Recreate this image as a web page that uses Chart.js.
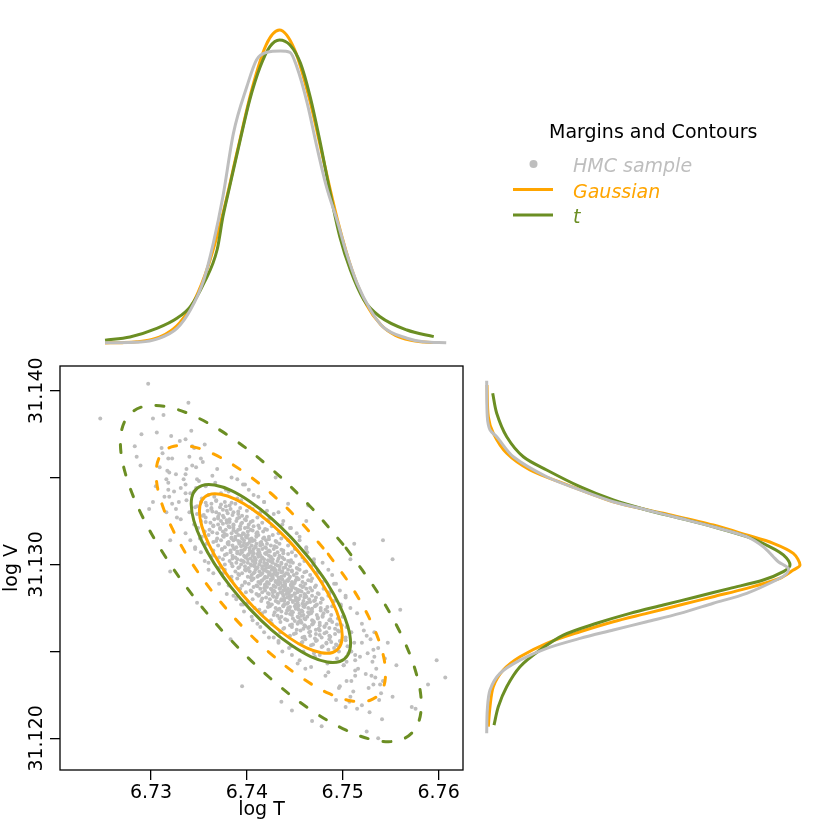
<!DOCTYPE html>
<html>
<head>
<meta charset="utf-8">
<script src="https://cdn.jsdelivr.net/npm/chart.js@4/dist/chart.umd.min.js"></script>
<style>
  body { margin: 0; background: #fff; }
  #wrap { position: relative; width: 830px; height: 830px; }
  canvas { position: absolute; }
</style>
</head>
<body>
<div id="wrap">
  <canvas id="mainChart" width="480" height="490" style="left:0;top:340px;width:480px;height:490px"></canvas>
  <canvas id="topChart" width="830" height="366" style="left:0;top:0;width:830px;height:366px"></canvas>
  <canvas id="rightChart" width="350" height="404" style="left:480px;top:366px;width:350px;height:404px"></canvas>
</div>
<script>
// HMC draws (log T, log V)
const hmcSample = [
  [6.7365,31.1295],[6.7377,31.1297],[6.7384,31.1293],[6.7388,31.1296],[6.7392,31.1294],[6.7395,31.1295],[6.7398,31.1297],[6.7401,31.1293],[6.7403,31.1296],[6.7405,31.1294],[6.7407,31.1295],[6.7409,31.1297],[6.7411,31.1293],[6.7413,31.1296],[6.7414,31.1294],[6.7416,31.1295],[6.7418,31.1297],[6.7419,31.1293],[6.7421,31.1296],[6.7423,31.1294],[6.7424,31.1295],[6.7426,31.1297],[6.7427,31.1293],[6.7429,31.1296],[6.7431,31.1294],[6.7432,31.1295],[6.7434,31.1297],[6.7436,31.1293],[6.7437,31.1296],[6.7439,31.1294],[6.7441,31.1295],[6.7443,31.1297],[6.7445,31.1293],[6.7447,31.1296],[6.7449,31.1294],[6.7452,31.1295],[6.7455,31.1297],[6.7458,31.1293],[6.7462,31.1296],[6.7466,31.1294],[6.7473,31.1295],[6.7485,31.1297],
  [6.7360,31.1301],[6.7371,31.1298],[6.7377,31.1300],[6.7382,31.1302],[6.7385,31.1299],[6.7389,31.1301],[6.7391,31.1298],[6.7394,31.1300],[6.7396,31.1302],[6.7398,31.1299],[6.7401,31.1301],[6.7402,31.1298],[6.7404,31.1300],[6.7406,31.1302],[6.7408,31.1299],[6.7409,31.1301],[6.7411,31.1298],[6.7413,31.1300],[6.7414,31.1302],[6.7416,31.1299],[6.7418,31.1301],[6.7420,31.1298],[6.7421,31.1300],[6.7424,31.1302],[6.7425,31.1299],[6.7427,31.1301],[6.7428,31.1298],[6.7430,31.1300],[6.7432,31.1302],[6.7434,31.1299],[6.7436,31.1301],[6.7438,31.1298],[6.7441,31.1300],[6.7443,31.1302],[6.7445,31.1299],[6.7448,31.1301],[6.7452,31.1298],[6.7455,31.1300],[6.7460,31.1302],[6.7467,31.1299],[6.7479,31.1301],
  [6.7371,31.1289],[6.7384,31.1291],[6.7390,31.1292],[6.7395,31.1288],[6.7398,31.1290],[6.7402,31.1289],[6.7405,31.1291],[6.7407,31.1292],[6.7410,31.1288],[6.7412,31.1290],[6.7414,31.1289],[6.7416,31.1291],[6.7418,31.1292],[6.7419,31.1288],[6.7421,31.1290],[6.7423,31.1289],[6.7425,31.1291],[6.7427,31.1292],[6.7428,31.1288],[6.7430,31.1290],[6.7432,31.1289],[6.7433,31.1291],[6.7435,31.1292],[6.7437,31.1288],[6.7439,31.1290],[6.7440,31.1289],[6.7442,31.1291],[6.7444,31.1292],[6.7446,31.1288],[6.7447,31.1290],[6.7449,31.1289],[6.7451,31.1291],[6.7453,31.1292],[6.7456,31.1288],[6.7458,31.1290],[6.7461,31.1289],[6.7464,31.1291],[6.7468,31.1292],[6.7472,31.1288],[6.7479,31.1290],[6.7491,31.1289],
  [6.7352,31.1307],[6.7364,31.1305],[6.7371,31.1304],[6.7375,31.1303],[6.7379,31.1306],[6.7383,31.1307],[6.7385,31.1305],[6.7388,31.1304],[6.7390,31.1303],[6.7393,31.1306],[6.7395,31.1307],[6.7397,31.1305],[6.7399,31.1304],[6.7401,31.1303],[6.7402,31.1306],[6.7404,31.1307],[6.7406,31.1305],[6.7408,31.1304],[6.7409,31.1303],[6.7411,31.1306],[6.7413,31.1307],[6.7414,31.1305],[6.7416,31.1304],[6.7418,31.1303],[6.7420,31.1306],[6.7421,31.1307],[6.7423,31.1305],[6.7425,31.1304],[6.7427,31.1303],[6.7429,31.1306],[6.7432,31.1307],[6.7434,31.1305],[6.7437,31.1304],[6.7439,31.1303],[6.7443,31.1306],[6.7447,31.1307],[6.7451,31.1305],[6.7458,31.1304],[6.7470,31.1303],
  [6.7379,31.1283],[6.7393,31.1286],[6.7399,31.1284],[6.7404,31.1285],[6.7407,31.1287],[6.7410,31.1283],[6.7414,31.1286],[6.7416,31.1284],[6.7419,31.1285],[6.7421,31.1287],[6.7423,31.1283],[6.7425,31.1286],[6.7427,31.1284],[6.7428,31.1285],[6.7430,31.1287],[6.7432,31.1283],[6.7434,31.1286],[6.7435,31.1284],[6.7438,31.1285],[6.7439,31.1287],[6.7441,31.1283],[6.7443,31.1286],[6.7444,31.1284],[6.7446,31.1285],[6.7448,31.1287],[6.7450,31.1283],[6.7451,31.1286],[6.7453,31.1284],[6.7455,31.1285],[6.7458,31.1287],[6.7460,31.1283],[6.7462,31.1286],[6.7464,31.1284],[6.7468,31.1285],[6.7471,31.1287],[6.7475,31.1283],[6.7480,31.1286],[6.7486,31.1284],[6.7497,31.1285],
  [6.7346,31.1310],[6.7358,31.1312],[6.7365,31.1308],[6.7370,31.1311],[6.7374,31.1309],[6.7377,31.1310],[6.7380,31.1312],[6.7383,31.1308],[6.7385,31.1311],[6.7387,31.1309],[6.7389,31.1310],[6.7392,31.1312],[6.7394,31.1308],[6.7396,31.1311],[6.7398,31.1309],[6.7399,31.1310],[6.7401,31.1312],[6.7403,31.1308],[6.7405,31.1311],[6.7407,31.1309],[6.7409,31.1310],[6.7410,31.1312],[6.7412,31.1308],[6.7414,31.1311],[6.7416,31.1309],[6.7419,31.1310],[6.7421,31.1312],[6.7423,31.1308],[6.7425,31.1311],[6.7428,31.1309],[6.7431,31.1310],[6.7434,31.1312],[6.7438,31.1308],[6.7443,31.1311],[6.7450,31.1309],[6.7462,31.1310],
  [6.7389,31.1281],[6.7401,31.1278],[6.7406,31.1280],[6.7412,31.1282],[6.7415,31.1279],[6.7420,31.1281],[6.7422,31.1278],[6.7424,31.1280],[6.7427,31.1282],[6.7430,31.1279],[6.7431,31.1281],[6.7433,31.1278],[6.7436,31.1280],[6.7438,31.1282],[6.7439,31.1279],[6.7442,31.1281],[6.7443,31.1278],[6.7445,31.1280],[6.7447,31.1282],[6.7448,31.1279],[6.7451,31.1281],[6.7453,31.1278],[6.7454,31.1280],[6.7456,31.1282],[6.7459,31.1279],[6.7460,31.1281],[6.7463,31.1278],[6.7465,31.1280],[6.7468,31.1282],[6.7470,31.1279],[6.7472,31.1281],[6.7477,31.1278],[6.7479,31.1280],[6.7485,31.1282],[6.7491,31.1279],[6.7503,31.1281],
  [6.7341,31.1314],[6.7353,31.1316],[6.7360,31.1317],[6.7365,31.1313],[6.7369,31.1315],[6.7373,31.1314],[6.7376,31.1316],[6.7379,31.1317],[6.7381,31.1313],[6.7384,31.1315],[6.7386,31.1314],[6.7388,31.1316],[6.7391,31.1317],[6.7393,31.1313],[6.7395,31.1315],[6.7397,31.1314],[6.7399,31.1316],[6.7401,31.1317],[6.7403,31.1313],[6.7405,31.1315],[6.7408,31.1314],[6.7410,31.1316],[6.7412,31.1317],[6.7415,31.1313],[6.7417,31.1315],[6.7420,31.1314],[6.7423,31.1316],[6.7427,31.1317],[6.7431,31.1313],[6.7436,31.1315],[6.7443,31.1314],[6.7455,31.1316],
  [6.7396,31.1277],[6.7408,31.1275],[6.7413,31.1274],[6.7419,31.1273],[6.7424,31.1276],[6.7426,31.1277],[6.7430,31.1275],[6.7432,31.1274],[6.7436,31.1273],[6.7438,31.1276],[6.7439,31.1277],[6.7443,31.1275],[6.7444,31.1274],[6.7447,31.1273],[6.7450,31.1276],[6.7451,31.1277],[6.7453,31.1275],[6.7454,31.1274],[6.7458,31.1273],[6.7459,31.1276],[6.7461,31.1277],[6.7464,31.1275],[6.7467,31.1274],[6.7468,31.1273],[6.7471,31.1276],[6.7473,31.1277],[6.7477,31.1275],[6.7482,31.1274],[6.7484,31.1273],[6.7489,31.1276],[6.7498,31.1277],[6.7508,31.1275],
  [6.7336,31.1318],[6.7349,31.1321],[6.7356,31.1319],[6.7361,31.1320],[6.7365,31.1322],[6.7369,31.1318],[6.7372,31.1321],[6.7375,31.1319],[6.7378,31.1320],[6.7381,31.1322],[6.7384,31.1318],[6.7386,31.1321],[6.7389,31.1319],[6.7391,31.1320],[6.7393,31.1322],[6.7396,31.1318],[6.7398,31.1321],[6.7401,31.1319],[6.7404,31.1320],[6.7407,31.1322],[6.7410,31.1318],[6.7413,31.1321],[6.7417,31.1319],[6.7421,31.1320],[6.7426,31.1322],[6.7433,31.1318],[6.7446,31.1321],
  [6.7405,31.1270],[6.7416,31.1272],[6.7425,31.1268],[6.7428,31.1271],[6.7434,31.1269],[6.7436,31.1270],[6.7441,31.1272],[6.7442,31.1268],[6.7447,31.1271],[6.7448,31.1269],[6.7453,31.1270],[6.7455,31.1272],[6.7456,31.1268],[6.7459,31.1271],[6.7460,31.1269],[6.7463,31.1270],[6.7467,31.1272],[6.7468,31.1268],[6.7473,31.1271],[6.7474,31.1269],[6.7479,31.1270],[6.7480,31.1272],[6.7486,31.1268],[6.7488,31.1271],[6.7495,31.1269],[6.7500,31.1270],[6.7515,31.1272],
  [6.7331,31.1326],[6.7345,31.1323],[6.7352,31.1325],[6.7357,31.1327],[6.7362,31.1324],[6.7366,31.1326],[6.7370,31.1323],[6.7373,31.1325],[6.7376,31.1327],[6.7379,31.1324],[6.7382,31.1326],[6.7386,31.1323],[6.7389,31.1325],[6.7392,31.1327],[6.7395,31.1324],[6.7398,31.1326],[6.7402,31.1323],[6.7406,31.1325],[6.7411,31.1327],[6.7416,31.1324],[6.7423,31.1326],[6.7437,31.1323],
  [6.7414,31.1264],[6.7426,31.1266],[6.7435,31.1267],[6.7438,31.1263],[6.7445,31.1265],[6.7447,31.1264],[6.7453,31.1266],[6.7454,31.1267],[6.7459,31.1263],[6.7460,31.1265],[6.7465,31.1264],[6.7469,31.1266],[6.7470,31.1267],[6.7475,31.1263],[6.7476,31.1265],[6.7481,31.1264],[6.7483,31.1266],[6.7489,31.1267],[6.7492,31.1263],[6.7499,31.1265],[6.7504,31.1264],[6.7520,31.1266],
  [6.7326,31.1332],[6.7340,31.1330],[6.7348,31.1329],[6.7354,31.1328],[6.7359,31.1331],[6.7363,31.1332],[6.7368,31.1330],[6.7371,31.1329],[6.7375,31.1328],[6.7379,31.1331],[6.7383,31.1332],[6.7386,31.1330],[6.7391,31.1329],[6.7395,31.1328],[6.7400,31.1331],[6.7406,31.1332],[6.7414,31.1330],[6.7428,31.1329],
  [6.7423,31.1258],[6.7435,31.1261],[6.7445,31.1259],[6.7449,31.1260],[6.7456,31.1262],[6.7458,31.1258],[6.7465,31.1261],[6.7466,31.1259],[6.7472,31.1260],[6.7476,31.1262],[6.7478,31.1258],[6.7483,31.1261],[6.7486,31.1259],[6.7492,31.1260],[6.7495,31.1262],[6.7503,31.1258],[6.7509,31.1261],[6.7525,31.1259],
  [6.7322,31.1335],[6.7337,31.1337],[6.7346,31.1333],[6.7352,31.1336],[6.7358,31.1334],[6.7363,31.1335],[6.7368,31.1337],[6.7372,31.1333],[6.7377,31.1336],[6.7382,31.1334],[6.7388,31.1335],[6.7394,31.1337],[6.7403,31.1333],[6.7418,31.1336],
  [6.7433,31.1256],[6.7446,31.1253],[6.7457,31.1255],[6.7461,31.1257],[6.7469,31.1254],[6.7472,31.1256],[6.7479,31.1253],[6.7483,31.1255],[6.7486,31.1257],[6.7493,31.1254],[6.7497,31.1256],[6.7505,31.1253],[6.7512,31.1255],[6.7529,31.1257],
  [6.7319,31.1339],[6.7336,31.1341],[6.7345,31.1342],[6.7353,31.1338],[6.7360,31.1340],[6.7366,31.1339],[6.7373,31.1341],[6.7381,31.1342],[6.7390,31.1338],[6.7407,31.1340],
  [6.7444,31.1252],[6.7459,31.1250],[6.7470,31.1249],[6.7476,31.1248],[6.7485,31.1251],[6.7491,31.1252],[6.7496,31.1250],[6.7506,31.1249],[6.7513,31.1248],[6.7532,31.1251],
  [6.7318,31.1343],[6.7336,31.1346],[6.7347,31.1344],[6.7357,31.1345],[6.7367,31.1347],[6.7378,31.1343],[6.7396,31.1346],
  [6.7455,31.1245],[6.7471,31.1247],[6.7484,31.1243],[6.7494,31.1246],[6.7504,31.1244],[6.7513,31.1245],[6.7533,31.1247],
  [6.7316,31.1349],[6.7336,31.1352],[6.7350,31.1348],[6.7364,31.1351],[6.7384,31.1350],
  [6.7467,31.1241],[6.7485,31.1238],[6.7501,31.1242],[6.7513,31.1239],[6.7535,31.1240],
  [6.7317,31.1354],[6.7343,31.1357],[6.7369,31.1355],[6.7482,31.1236],[6.7509,31.1233],[6.7534,31.1235],
  [6.7318,31.1361],[6.7354,31.1359],[6.7496,31.1229],[6.7532,31.1231],[6.7312,31.1364],[6.7345,31.1367],
  [6.7508,31.1224],[6.7540,31.1226],[6.7330,31.1371],[6.7520,31.1219],
  [6.7247,31.1384],[6.7297,31.1404],[6.7542,31.1314],[6.7552,31.1303],[6.7598,31.1245],[6.7607,31.1235],
  [6.7395,31.1230],[6.7447,31.1216],[6.7468,31.1210],[6.7541,31.1211],[6.7525,31.1204],[6.7537,31.1200],
  [6.7589,31.1231],[6.7576,31.1217],[6.7285,31.1362],[6.7283,31.1368],[6.7298,31.1332],[6.7289,31.1357],
  [6.7339,31.1393],[6.7302,31.1384],[6.7290,31.1375],[6.7306,31.1376],[6.7313,31.1386],[6.7342,31.1377],
  [6.7320,31.1314],[6.7320,31.1296],[6.7348,31.1278],[6.7383,31.1257],[6.7430,31.1350],[6.7443,31.1335],
  [6.7464,31.1334],[6.7462,31.1325],[6.7512,31.1312],[6.7508,31.1303],[6.7560,31.1274],[6.7556,31.1242],
  [6.7552,31.1224],[6.7572,31.1218],[6.7539,31.1231],[6.7478,31.1207],[6.7503,31.1218],[6.7436,31.1221],
  // dense core
  [6.7391,31.12945],[6.7399,31.12965],[6.7404,31.12925],[6.7408,31.12955],[6.7412,31.12935],[6.7415,31.12945],[6.7418,31.12965],[6.7421,31.12925],[6.7423,31.12955],[6.7426,31.12935],[6.7428,31.12945],[6.7430,31.12965],[6.7433,31.12925],[6.7436,31.12955],[6.7439,31.12935],[6.7443,31.12945],[6.7447,31.12965],[6.7452,31.12925],[6.7460,31.12955],
  [6.7384,31.13005],[6.7392,31.12985],[6.7397,31.13015],[6.7401,31.12975],[6.7405,31.12995],[6.7408,31.13005],[6.7411,31.12985],[6.7414,31.13015],[6.7416,31.12975],[6.7419,31.12995],[6.7421,31.13005],[6.7423,31.12985],[6.7426,31.13015],[6.7429,31.12975],[6.7432,31.12995],[6.7436,31.13005],[6.7440,31.12985],[6.7445,31.13015],[6.7453,31.12975],
  [6.7398,31.12895],[6.7406,31.12915],[6.7411,31.12875],[6.7415,31.12905],[6.7419,31.12885],[6.7422,31.12895],[6.7425,31.12915],[6.7428,31.12875],[6.7430,31.12905],[6.7433,31.12885],[6.7435,31.12895],[6.7437,31.12915],[6.7440,31.12875],[6.7443,31.12905],[6.7446,31.12885],[6.7450,31.12895],[6.7454,31.12915],[6.7459,31.12875],[6.7467,31.12905],
  [6.7377,31.13055],[6.7385,31.13035],[6.7390,31.13065],[6.7394,31.13025],[6.7398,31.13045],[6.7401,31.13055],[6.7404,31.13035],[6.7407,31.13065],[6.7409,31.13025],[6.7412,31.13045],[6.7414,31.13055],[6.7416,31.13035],[6.7419,31.13065],[6.7422,31.13025],[6.7425,31.13045],[6.7429,31.13055],[6.7433,31.13035],[6.7438,31.13065],[6.7446,31.13025],
  [6.7405,31.12845],[6.7413,31.12825],[6.7418,31.12865],[6.7422,31.12835],[6.7426,31.12855],[6.7429,31.12845],[6.7432,31.12825],[6.7435,31.12865],[6.7437,31.12835],[6.7440,31.12855],[6.7442,31.12845],[6.7444,31.12825],[6.7447,31.12865],[6.7450,31.12835],[6.7453,31.12855],[6.7457,31.12845],[6.7461,31.12825],[6.7466,31.12865],[6.7474,31.12835],
  [6.7374,31.13085],[6.7381,31.13115],[6.7386,31.13095],[6.7390,31.13075],[6.7394,31.13105],[6.7397,31.13085],[6.7400,31.13115],[6.7403,31.13095],[6.7406,31.13075],[6.7409,31.13105],[6.7412,31.13085],[6.7416,31.13115],[6.7420,31.13095],[6.7424,31.13075],[6.7429,31.13105],[6.7436,31.13085],
  [6.7416,31.12805],[6.7423,31.12775],[6.7428,31.12815],[6.7432,31.12785],[6.7436,31.12795],[6.7439,31.12805],[6.7442,31.12775],[6.7445,31.12815],[6.7448,31.12785],[6.7451,31.12795],[6.7454,31.12805],[6.7458,31.12775],[6.7462,31.12815],[6.7466,31.12785],[6.7471,31.12795],[6.7478,31.12805],
  [6.7368,31.13135],[6.7375,31.13165],[6.7380,31.13125],[6.7384,31.13155],[6.7388,31.13145],[6.7391,31.13135],[6.7394,31.13165],[6.7397,31.13125],[6.7400,31.13155],[6.7403,31.13145],[6.7406,31.13135],[6.7410,31.13165],[6.7414,31.13125],[6.7418,31.13155],[6.7423,31.13145],[6.7430,31.13135],
  [6.7422,31.12755],[6.7429,31.12725],[6.7434,31.12745],[6.7438,31.12765],[6.7442,31.12735],[6.7445,31.12755],[6.7448,31.12725],[6.7451,31.12745],[6.7454,31.12765],[6.7457,31.12735],[6.7460,31.12755],[6.7464,31.12725],[6.7468,31.12745],[6.7472,31.12765],[6.7477,31.12735],[6.7484,31.12755],
  [6.7364,31.13185],[6.7372,31.13205],[6.7377,31.13175],[6.7382,31.13215],[6.7386,31.13195],[6.7389,31.13185],[6.7393,31.13205],[6.7397,31.13175],[6.7401,31.13215],[6.7406,31.13195],[6.7411,31.13185],[6.7419,31.13205],
  [6.7432,31.12705],[6.7440,31.12685],[6.7445,31.12715],[6.7450,31.12675],[6.7454,31.12695],[6.7457,31.12705],[6.7461,31.12685],[6.7465,31.12715],[6.7469,31.12675],[6.7474,31.12695],[6.7479,31.12705],[6.7487,31.12685],
  [6.7357,31.13245],[6.7365,31.13225],[6.7370,31.13265],[6.7375,31.13235],[6.7379,31.13255],[6.7382,31.13245],[6.7386,31.13225],[6.7390,31.13265],[6.7394,31.13235],[6.7399,31.13255],[6.7404,31.13245],[6.7412,31.13225],
  [6.7439,31.12635],[6.7447,31.12655],[6.7452,31.12625],[6.7457,31.12665],[6.7461,31.12645],[6.7464,31.12635],[6.7468,31.12655],[6.7472,31.12625],[6.7476,31.12665],[6.7481,31.12645],[6.7486,31.12635],[6.7494,31.12655],
  [6.7355,31.13285],[6.7364,31.13305],[6.7370,31.13275],[6.7375,31.13315],[6.7380,31.13295],[6.7385,31.13285],[6.7391,31.13305],[6.7400,31.13275],
  [6.7451,31.12605],[6.7460,31.12585],[6.7466,31.12615],[6.7471,31.12575],[6.7476,31.12595],[6.7481,31.12605],[6.7487,31.12585],[6.7496,31.12615],
  [6.7348,31.13335],[6.7357,31.13355],[6.7363,31.13325],[6.7368,31.13365],[6.7373,31.13345],[6.7378,31.13335],[6.7384,31.13355],[6.7393,31.13325],
  [6.7458,31.12555],[6.7467,31.12535],[6.7473,31.12565],[6.7478,31.12525],[6.7483,31.12545],[6.7488,31.12555],[6.7494,31.12535],[6.7503,31.12565],
  // halo between the inner and outer contours
  [6.7318,31.1347],[6.7326,31.1352],[6.7331,31.1344],[6.7309,31.1356],[6.7322,31.1361],[6.7337,31.1355],[6.7314,31.1339],[6.7329,31.1336],[6.7340,31.1362],[6.7305,31.1345],
  [6.7334,31.1349],[6.7347,31.1356],[6.7311,31.1367],[6.7324,31.1342],[6.7352,31.1361],[6.7316,31.1330],[6.7343,31.1368],[6.7336,31.1372],[6.7321,31.1374],[6.7348,31.1349],
  [6.7302,31.1336],[6.7327,31.1327],[6.7356,31.1369],[6.7341,31.1341],[6.7319,31.1353],
  [6.7531,31.1244],[6.7524,31.1237],[6.7518,31.1247],[6.7542,31.1233],[6.7527,31.1229],[6.7513,31.1236],[6.7537,31.1252],[6.7520,31.1255],[6.7511,31.1227],[6.7544,31.1246],
  [6.7516,31.1240],[6.7504,31.1233],[6.7538,31.1222],[6.7526,31.1249],[6.7497,31.1230],[6.7533,31.1261],[6.7507,31.1221],[6.7515,31.1217],[6.7528,31.1215],[6.7501,31.1242],
  [6.7547,31.1255],[6.7522,31.1262],[6.7493,31.1222],[6.7509,31.1250],[6.7530,31.1236],
  [6.7452,31.1318],[6.7433,31.1330],[6.7463,31.1307],[6.7474,31.1296],[6.7412,31.1339],[6.7486,31.1283],[6.7438,31.1325],[6.7455,31.1314],[6.7418,31.1336],[6.7470,31.1301],
  [6.7493,31.1289],[6.7398,31.1346],[6.7390,31.1349],[6.7498,31.1276],[6.7421,31.1331],[6.7462,31.1309],[6.7489,31.1294],[6.7402,31.1343],[6.7445,31.1321],[6.7503,31.1282],
  [6.7397,31.1273],[6.7418,31.1261],[6.7386,31.1282],[6.7375,31.1295],[6.7437,31.1250],[6.7365,31.1306],[6.7411,31.1266],[6.7394,31.1277],[6.7433,31.1255],[6.7381,31.1288],
  [6.7356,31.1302],[6.7453,31.1243],[6.7461,31.1240],[6.7351,31.1315],[6.7428,31.1258],[6.7389,31.1280],[6.7360,31.1297],[6.7447,31.1248],[6.7406,31.1268],[6.7346,31.1309]
];

// contour lines (log T, log V), traced round each ellipse and closed
const gaussInnerT = [6.74623,6.74777,6.74895,6.74970,6.74995,6.74970,6.74895,6.74777,6.74623,6.74443,6.74250,6.74057,6.73878,6.73723,6.73605,6.73530,6.73505,6.73530,6.73605,6.73723,6.73878,6.74057,6.74250,6.74443,6.74623];
const gaussInnerV = [31.13018,31.12898,31.12782,31.12677,31.12590,31.12528,31.12494,31.12492,31.12520,31.12578,31.12661,31.12763,31.12878,31.12998,31.13114,31.13220,31.13306,31.13368,31.13402,31.13404,31.13376,31.13318,31.13235,31.13133,31.13018];
const tInnerT = [6.74666,6.74838,6.74970,6.75053,6.75082,6.75053,6.74970,6.74838,6.74666,6.74465,6.74250,6.74035,6.73834,6.73662,6.73530,6.73447,6.73419,6.73447,6.73530,6.73662,6.73834,6.74035,6.74250,6.74465,6.74666];
const tInnerV = [31.13026,31.12892,31.12762,31.12645,31.12548,31.12479,31.12442,31.12439,31.12470,31.12535,31.12627,31.12742,31.12870,31.13004,31.13134,31.13251,31.13348,31.13417,31.13454,31.13457,31.13426,31.13361,31.13269,31.13154,31.13026];
const gaussOuterT = [6.74849,6.75097,6.75287,6.75407,6.75447,6.75407,6.75287,6.75097,6.74849,6.74560,6.74250,6.73940,6.73651,6.73403,6.73213,6.73093,6.73053,6.73093,6.73213,6.73403,6.73651,6.73940,6.74250,6.74560,6.74849];
const gaussOuterV = [31.13060,31.12868,31.12681,31.12512,31.12373,31.12273,31.12219,31.12215,31.12260,31.12353,31.12486,31.12651,31.12836,31.13028,31.13216,31.13384,31.13523,31.13623,31.13677,31.13681,31.13636,31.13543,31.13410,31.13245,31.13060];
const tOuterT = [6.75035,6.75360,6.75610,6.75766,6.75820,6.75766,6.75610,6.75360,6.75035,6.74656,6.74250,6.73844,6.73465,6.73140,6.72890,6.72734,6.72680,6.72734,6.72890,6.73140,6.73465,6.73844,6.74250,6.74656,6.75035];
const tOuterV = [31.13095,31.12843,31.12597,31.12376,31.12194,31.12063,31.11992,31.11987,31.12047,31.12168,31.12343,31.12559,31.12801,31.13053,31.13299,31.13520,31.13703,31.13833,31.13904,31.13910,31.13850,31.13728,31.13553,31.13337,31.13095];

// marginal densities of log T (top panel)
const topGrayT  = [6.7252,6.7289,6.7306,6.7327,6.7341,6.7355,6.7365,6.7375,6.7386,6.7400,6.7410,6.7421,6.7435,6.7445,6.7452,6.7463,6.7473,6.7483,6.7494,6.7504,6.7515,6.7529,6.7542,6.7567,6.7584,6.7608];
const topGrayD  = [0.1,0.3,1.2,4.6,10.4,19.9,31.5,46.2,66.2,80.9,89.3,91.7,92.1,91.7,87.2,75.6,61.9,49.3,38.8,28.3,18.8,10.4,5.1,1.5,0.4,0.1];
const topGaussT = [6.7252,6.7270,6.7285,6.7300,6.7315,6.7330,6.7345,6.7360,6.7375,6.7390,6.7405,6.7420,6.7434,6.7450,6.7465,6.7480,6.7495,6.7510,6.7525,6.7540,6.7555,6.7570,6.7585,6.7596];
const topGaussD = [0.02,0.11,0.36,1.04,2.73,6.38,13.3,24.7,40.9,60.5,79.8,94.0,98.7,92.4,77.3,57.6,38.3,22.7,12.0,5.67,2.40,0.90,0.30,0.13];
const topTT     = [6.7252,6.7278,6.7306,6.7327,6.7341,6.7355,6.7369,6.7375,6.7382,6.7393,6.7403,6.7414,6.7424,6.7434,6.7445,6.7456,6.7466,6.7476,6.7487,6.7497,6.7508,6.7522,6.7539,6.7567,6.7595];
const topTD     = [0.9,1.9,4.6,7.8,11.5,18.8,29.5,39.8,49.3,64.0,76.7,87.2,93.5,95.6,94.0,88.2,77.7,64.0,47.2,33.5,23.0,13.6,8.3,4.1,2.0];

// marginal densities of log V (right panel)
const rightGrayV  = [31.14057,31.13850,31.13774,31.13735,31.13620,31.13505,31.13429,31.13361,31.13314,31.13266,31.13217,31.13160,31.13102,31.13045,31.13016,31.12978,31.12949,31.12921,31.12834,31.12777,31.12719,31.12671,31.12623,31.12575,31.12518,31.12450,31.12374,31.12278,31.12163,31.12029];
const rightGrayD  = [0.22,0.41,1.27,3.40,8.69,19.31,29.91,40.50,51.13,61.73,72.32,82.95,88.23,91.41,93.01,96.19,95.68,93.55,82.95,72.32,61.73,51.13,40.50,29.91,19.31,10.82,4.45,1.27,0.41,0.22];
const rightGaussV = [31.14033,31.13850,31.13755,31.13640,31.13544,31.13467,31.13361,31.13295,31.13227,31.13170,31.13122,31.13064,31.12997,31.12968,31.12921,31.12863,31.12815,31.12767,31.12719,31.12671,31.12613,31.12547,31.12469,31.12393,31.12297,31.12182,31.12067];
const rightGaussD = [0.32,0.73,2.32,6.59,14.0,24.60,40.50,56.41,72.32,82.95,91.41,97.78,99.91,97.78,93.55,82.95,72.32,61.73,51.13,40.50,29.91,19.31,10.82,5.50,2.32,1.27,0.73];
const rightTV     = [31.13985,31.13870,31.13735,31.13620,31.13544,31.13448,31.13371,31.13314,31.13266,31.13217,31.13160,31.13102,31.13055,31.12997,31.12959,31.12911,31.12863,31.12815,31.12767,31.12719,31.12662,31.12594,31.12508,31.12412,31.12297,31.12182,31.12076];
const rightTD     = [2.13,3.40,6.59,11.87,19.31,29.91,40.50,51.13,61.73,72.32,82.95,90.36,94.60,96.73,94.60,88.23,77.64,67.04,56.41,45.82,35.22,24.60,17.18,10.82,6.59,3.91,2.55];

const legendTitle = 'Margins and Contours';
const legendLabels = ['HMC sample', 'Gaussian', 't'];

const T_RANGE = [6.7205, 6.76255];
const V_RANGE = [31.11818, 31.14142];

const GRAY = '#bebebe', ORANGE = '#ffa500', GREEN = '#6b8e23';
const FONT = '"DejaVu Sans", sans-serif';
Chart.defaults.font.family = FONT;
Chart.defaults.font.size = 19;
Chart.defaults.color = '#000';

const xy = (xs, ys) => xs.map((v, i) => ({ x: v, y: ys[i] }));

function contour(label, xs, ys, color, dash) {
  return {
    label: label, data: xy(xs, ys), showLine: true, borderColor: color, borderWidth: 3,
    borderDash: dash, borderCapStyle: 'round', pointRadius: 0, tension: 0.35, fill: false
  };
}

function margin(label, xs, ys, color, extra) {
  return Object.assign({
    label: label, data: xy(xs, ys), showLine: true, borderColor: color, borderWidth: 3,
    pointRadius: 0, fill: false, clip: false
  }, extra);
}

const baseOpts = {
  responsive: false, animation: false, devicePixelRatio: 1, events: [],
  plugins: { legend: { display: false }, tooltip: { enabled: false } }
};

// frame and rotated y labels, R style
const frameAndLabels = {
  id: 'frameAndLabels',
  afterDraw(chart) {
    const ctx = chart.ctx, a = chart.chartArea, ys = chart.scales.y;
    ctx.save();
    ctx.strokeStyle = '#000';
    ctx.lineWidth = 1.3;
    ctx.strokeRect(a.left, a.top, a.right - a.left, a.bottom - a.top);
    ctx.fillStyle = '#000';
    ctx.font = '19px ' + FONT;
    ctx.textAlign = 'center';
    ctx.textBaseline = 'alphabetic';
    ys.ticks.forEach(t => {
      const c = t.value * 100;
      if (Math.abs(c - Math.round(c)) > 1e-6) return;
      ctx.save();
      ctx.translate(42, ys.getPixelForValue(t.value));
      ctx.rotate(-Math.PI / 2);
      ctx.fillText(t.value.toFixed(3), 0, 0);
      ctx.restore();
    });
    ctx.restore();
  }
};

new Chart(document.getElementById('mainChart'), {
  type: 'scatter',
  data: {
    datasets: [
      contour('t', tInnerT, tInnerV, GREEN, []),
      contour('Gaussian', gaussInnerT, gaussInnerV, ORANGE, []),
      contour('t', tOuterT, tOuterV, GREEN, [8, 15]),
      contour('Gaussian', gaussOuterT, gaussOuterV, ORANGE, [8, 15]),
      {
        label: 'HMC sample', data: hmcSample.map(p => ({ x: p[0], y: p[1] })),
        pointRadius: 2, pointBackgroundColor: GRAY, pointBorderWidth: 0, showLine: false
      }
    ]
  },
  options: Object.assign({}, baseOpts, {
    layout: { padding: { left: 0, top: 26, right: 17, bottom: 0 } },
    scales: {
      x: {
        type: 'linear', min: T_RANGE[0], max: T_RANGE[1],
        afterFit: s => { s.height = 60; },
        grid: { drawOnChartArea: false, tickLength: 10, color: '#000', lineWidth: 1.3 },
        border: { display: false },
        ticks: { stepSize: 0.01, includeBounds: false, padding: 2, maxRotation: 0, autoSkip: false,
                 callback: v => v.toFixed(2) },
        title: { display: true, text: 'log T', font: { size: 19, lineHeight: 1 }, padding: { top: 0, bottom: 10.5 } }
      },
      y: {
        type: 'linear', min: V_RANGE[0], max: V_RANGE[1],
        afterFit: s => { s.width = 60; },
        grid: { drawOnChartArea: false, tickLength: 10, color: '#000', lineWidth: 1.3 },
        border: { display: false },
        ticks: { stepSize: 0.005, includeBounds: false, display: false },
        title: { display: true, text: 'log V', font: { size: 19, lineHeight: 1 }, padding: { top: 3, bottom: 0 } }
      }
    }
  }),
  plugins: [frameAndLabels]
});

// legend drawn in the empty top-right corner
const marginLegend = {
  id: 'marginLegend',
  afterDraw(chart) {
    const ctx = chart.ctx;
    const colors = [GRAY, ORANGE, GREEN];
    const rowY = [164, 189.5, 215];
    ctx.save();
    ctx.textAlign = 'left';
    ctx.textBaseline = 'alphabetic';
    ctx.fillStyle = '#000';
    ctx.font = '19px ' + FONT;
    ctx.fillText(legendTitle, 549, 138);
    ctx.font = 'italic 19px ' + FONT;
    legendLabels.forEach((label, i) => {
      ctx.fillStyle = colors[i];
      ctx.strokeStyle = colors[i];
      if (i === 0) {
        ctx.beginPath();
        ctx.arc(533.5, rowY[i], 4, 0, Math.PI * 2);
        ctx.fill();
      } else {
        ctx.lineWidth = 3;
        ctx.beginPath();
        ctx.moveTo(513, rowY[i]);
        ctx.lineTo(553, rowY[i]);
        ctx.stroke();
      }
      ctx.fillText(label, 573, rowY[i] + 8);
    });
    ctx.restore();
  }
};

new Chart(document.getElementById('topChart'), {
  type: 'scatter',
  data: {
    datasets: [
      margin('HMC sample', topGrayT, topGrayD, GRAY, { cubicInterpolationMode: 'monotone' }),
      margin('t', topTT, topTD, GREEN, { cubicInterpolationMode: 'monotone' }),
      margin('Gaussian', topGaussT, topGaussD, ORANGE, { cubicInterpolationMode: 'monotone' })
    ]
  },
  options: Object.assign({}, baseOpts, {
    layout: { padding: { left: 60, right: 367, top: 26, bottom: 23 } },
    scales: {
      x: { type: 'linear', display: false, min: T_RANGE[0], max: T_RANGE[1] },
      y: { type: 'linear', display: false, min: 0, max: 100 }
    }
  }),
  plugins: [marginLegend]
});

new Chart(document.getElementById('rightChart'), {
  type: 'scatter',
  data: {
    datasets: [
      margin('HMC sample', rightGrayD, rightGrayV, GRAY, { tension: 0.3 }),
      margin('t', rightTD, rightTV, GREEN, { tension: 0.3 }),
      margin('Gaussian', rightGaussD, rightGaussV, ORANGE, { tension: 0.3 })
    ]
  },
  options: Object.assign({}, baseOpts, {
    layout: { padding: { left: 6, right: 14, top: 0, bottom: 0 } },
    scales: {
      x: { type: 'linear', display: false, min: 0, max: 105 },
      y: { type: 'linear', display: false, min: V_RANGE[0], max: V_RANGE[1] }
    }
  })
});
</script>
</body>
</html>
